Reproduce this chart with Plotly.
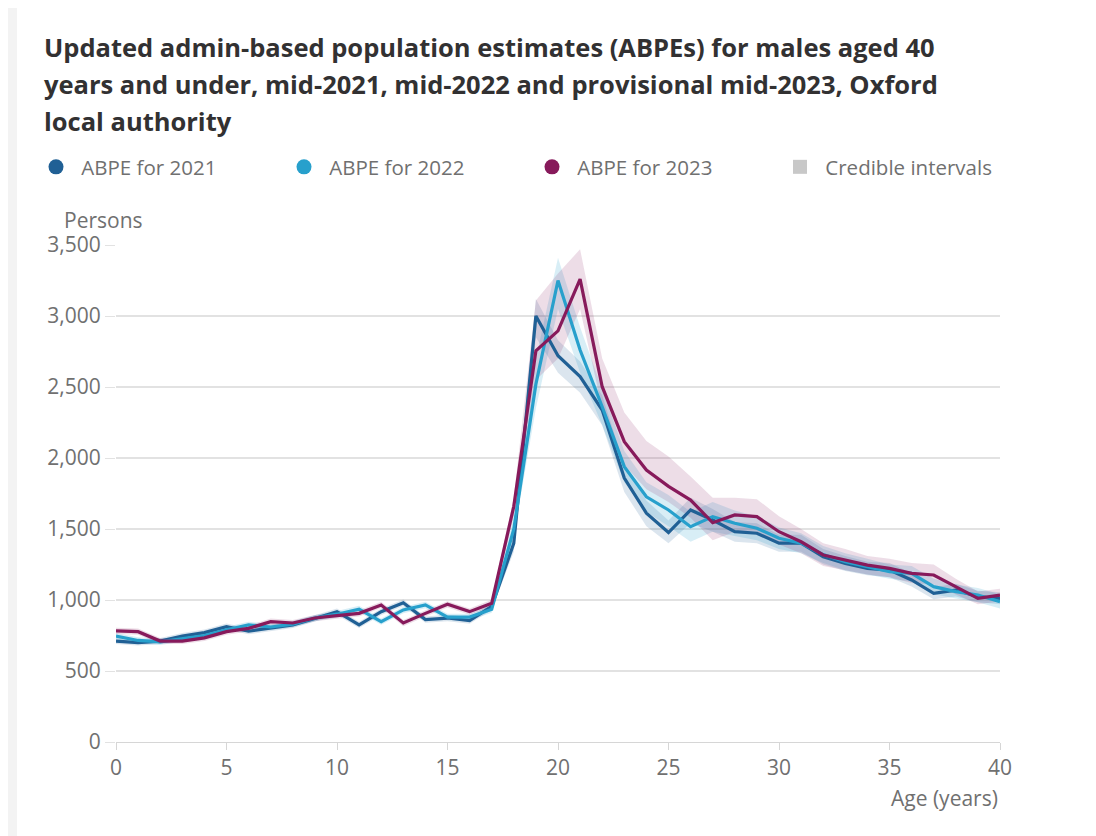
import plotly.graph_objects as go

ages = list(range(0, 41))

abpe_2021 = [711, 700, 711, 746, 770, 812, 780, 800, 825, 870, 918, 824, 918, 980, 862, 873, 855, 955,
             1400, 3000, 2720, 2573, 2338, 1859, 1612, 1475, 1634, 1563, 1481, 1470, 1400, 1400, 1305,
             1258, 1223, 1211, 1141, 1047, 1070, 1023, 1012]
abpe_2022 = [746, 715, 705, 730, 750, 790, 824, 810, 830, 873, 900, 936, 847, 930, 965, 880, 880, 935,
             1500, 2520, 3250, 2760, 2361, 1939, 1727, 1634, 1516, 1587, 1540, 1505, 1435, 1400, 1320,
             1270, 1235, 1200, 1188, 1094, 1059, 1035, 988]
abpe_2023 = [782, 777, 711, 711, 733, 777, 800, 847, 838, 873, 890, 906, 965, 838, 906, 970, 918, 977,
             1660, 2755, 2895, 3260, 2502, 2115, 1915, 1800, 1704, 1544, 1599, 1587, 1481, 1410, 1317,
             1282, 1246, 1223, 1188, 1176, 1094, 1012, 1035]

lo_2021 = [690, 680, 690, 725, 748, 790, 758, 778, 803, 848, 895, 802, 895, 957, 840, 850, 832, 930,
           1340, 2850, 2600, 2460, 2230, 1760, 1520, 1400, 1540, 1480, 1410, 1400, 1340, 1340, 1250,
           1205, 1175, 1160, 1095, 1005, 1025, 985, 970]
hi_2021 = [732, 720, 732, 767, 792, 834, 802, 822, 847, 892, 941, 846, 941, 1003, 884, 896, 878, 980,
           1460, 3120, 2830, 2680, 2440, 1950, 1700, 1560, 1720, 1640, 1550, 1540, 1460, 1460, 1360,
           1310, 1270, 1260, 1190, 1090, 1115, 1065, 1055]
lo_2022 = [724, 693, 683, 708, 728, 768, 802, 788, 808, 851, 877, 913, 825, 907, 942, 857, 857, 910,
           1450, 2350, 3050, 2600, 2230, 1830, 1620, 1520, 1410, 1480, 1450, 1420, 1360, 1330, 1260,
           1210, 1180, 1150, 1130, 1040, 1010, 985, 940]
hi_2022 = [768, 737, 727, 752, 772, 812, 846, 832, 852, 895, 923, 959, 869, 953, 988, 903, 903, 960,
           1620, 2700, 3410, 2920, 2490, 2050, 1830, 1740, 1620, 1690, 1630, 1590, 1510, 1470, 1380,
           1330, 1290, 1250, 1240, 1150, 1110, 1085, 1040]
lo_2023 = [760, 755, 690, 690, 711, 755, 778, 825, 816, 851, 868, 884, 943, 816, 884, 948, 896, 952,
           1600, 2550, 2700, 3050, 2350, 1950, 1780, 1690, 1580, 1420, 1480, 1480, 1390, 1330, 1240,
           1210, 1180, 1160, 1120, 1110, 1040, 970, 990]
hi_2023 = [804, 799, 733, 733, 755, 799, 822, 869, 860, 895, 912, 928, 987, 860, 928, 992, 940, 1002,
           1720, 3110, 3300, 3470, 2700, 2320, 2120, 2010, 1870, 1720, 1720, 1710, 1590, 1500, 1400,
           1360, 1310, 1290, 1260, 1250, 1150, 1060, 1080]

y_ticks = [0, 500, 1000, 1500, 2000, 2500, 3000, 3500]
y_tick_labels = ["0", "500", "1,000", "1,500", "2,000", "2,500", "3,000", "3,500"]
x_ticks = [0, 5, 10, 15, 20, 25, 30, 35, 40]

title_lines = [
    "Updated admin-based population estimates (ABPEs) for males aged 40",
    "years and under, mid-2021, mid-2022 and provisional mid-2023, Oxford",
    "local authority",
]

series = [
    ("ABPE for 2021", abpe_2021, lo_2021, hi_2021, "#206095", "rgba(32,96,149,0.16)"),
    ("ABPE for 2022", abpe_2022, lo_2022, hi_2022, "#27a0cc", "rgba(39,160,204,0.18)"),
    ("ABPE for 2023", abpe_2023, lo_2023, hi_2023, "#871a5b", "rgba(135,26,91,0.15)"),
]

W, H = 1088, 828
L, R, T, B = 108, 96, 237, 94
PW, PH = W - L - R, H - T - B


def px_x(px):
    return (px - L) / PW


def px_y(py):
    return 1 + (T - py) / PH


fig = go.Figure()

for name, vals, lo, hi, col, fcol in series:
    fig.add_trace(go.Scatter(x=ages, y=lo, mode="lines", line=dict(width=0, color=fcol),
                             showlegend=False, hoverinfo="skip"))
    fig.add_trace(go.Scatter(x=ages, y=hi, mode="lines", line=dict(width=0, color=fcol),
                             fill="tonexty", fillcolor=fcol, showlegend=False, hoverinfo="skip"))

for name, vals, lo, hi, col, fcol in series:
    fig.add_trace(go.Scatter(x=ages, y=vals, mode="lines", name=name,
                             line=dict(color=col, width=3.2), showlegend=False))

for name, vals, lo, hi, col, fcol in series:
    fig.add_trace(go.Scatter(x=[None], y=[None], mode="markers", name="\u00a0" + name,
                             marker=dict(symbol="circle", size=15, color=col)))
fig.add_trace(go.Scatter(x=[None], y=[None], mode="markers", name="\u00a0Credible intervals",
                         marker=dict(symbol="square", size=14, color="#c8c8c8")))

FONT = "Open Sans, Noto Sans, sans-serif"

annotations = []
for i, line in enumerate(title_lines):
    annotations.append(dict(text="<b>" + line + "</b>", xref="paper", yref="paper",
                            x=px_x(34), y=px_y(39 + 37 * i), xanchor="left", yanchor="middle",
                            align="left", showarrow=False,
                            font=dict(family=FONT, size=25.5, color="#323132")))
annotations.append(dict(text="Persons", xref="paper", yref="paper", x=px_x(54), y=px_y(212),
                        xanchor="left", yanchor="middle", showarrow=False,
                        font=dict(family=FONT, size=21, color="#707070")))
annotations.append(dict(text="Age (years)", xref="paper", yref="paper", x=1, y=px_y(790),
                        xanchor="right", yanchor="middle", showarrow=False,
                        font=dict(family=FONT, size=21, color="#707070")))

fig.update_layout(
    width=W, height=H,
    margin=dict(l=L, r=R, t=T, b=B),
    paper_bgcolor="#ffffff",
    plot_bgcolor="#ffffff",
    font=dict(family=FONT, color="#707070", size=21),
    legend=dict(orientation="h", x=px_x(28), y=px_y(159), xanchor="left", yanchor="middle",
                font=dict(size=20.5, color="#707070"),
                entrywidth=203, entrywidthmode="pixels", itemsizing="trace",
                traceorder="normal", bgcolor="rgba(0,0,0,0)"),
    xaxis=dict(range=[0, 40], tickvals=x_ticks, showgrid=False, showline=True,
               linecolor="#d6d6d6", linewidth=1, ticks="outside", ticklen=7,
               tickcolor="#d6d6d6", zeroline=False, tickfont=dict(size=21, color="#707070")),
    yaxis=dict(range=[0, 3500], tickvals=y_ticks, ticktext=y_tick_labels, showgrid=True,
               gridcolor="#e2e2e2", gridwidth=1.5, zeroline=False, ticks="outside", ticklen=10,
               tickcolor="#e2e2e2", showline=False, tickfont=dict(size=21, color="#707070")),
    shapes=[
        dict(type="rect", xref="paper", yref="paper", x0=-1, x1=px_x(9), y0=-1, y1=2,
             fillcolor="#f3f3f3", line=dict(width=0), layer="below"),
    ],
    annotations=annotations,
)

fig.write_html("out.html")
